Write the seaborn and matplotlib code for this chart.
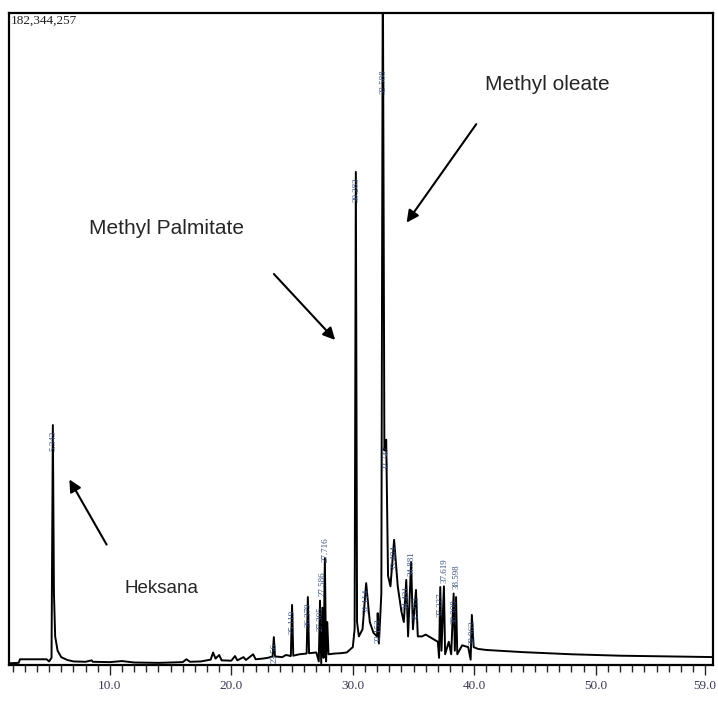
import numpy as np
import pandas as pd
import matplotlib
matplotlib.use("Agg")
import matplotlib.pyplot as plt
from matplotlib.ticker import MultipleLocator
import seaborn as sns

# Kromatogram GC - waktu retensi (menit) dan intensitas (juta count)
waktu = [1.8, 2.5, 2.6, 4.8, 5.0, 5.2, 5.31, 5.40, 5.5, 5.7, 6.0, 6.5, 7.0, 8.0, 8.5, 8.6,
         10.0, 11.0, 12.0, 14.0, 16.0, 16.3, 16.6, 17.5, 18.3, 18.5, 18.7, 19.0, 19.2,
         20.0, 20.3, 20.5, 21.0, 21.2, 21.8, 22.0, 22.6, 23.0, 23.4, 23.5, 23.6, 24.2,
         24.5, 24.9, 25.0, 25.1, 25.6, 26.2, 26.3, 26.4, 27.0, 27.2, 27.3, 27.4, 27.5,
         27.6, 27.7, 27.8, 27.9, 28.0, 28.5, 29.0, 29.5, 30.0, 30.15, 30.25, 30.35, 30.5,
         30.8, 31.1, 31.4, 31.7, 32.0, 32.05, 32.15, 32.35, 32.47, 32.6, 32.75, 32.9, 33.1,
         33.4, 33.7, 34.0, 34.2, 34.4, 34.55, 34.8, 34.95, 35.2, 35.35, 35.7, 36.0, 36.5,
         37.0, 37.1, 37.2, 37.3, 37.5, 37.6, 37.9, 38.1, 38.3, 38.4, 38.5, 38.6, 39.0,
         39.5, 39.7, 39.8, 39.95, 40.3, 41.0, 42.0, 44.0, 46.0, 48.0, 50.0, 52.0, 54.0,
         56.0, 58.0, 59.9]
intensitas = [0.5, 0.6, 1.6, 1.6, 1.0, 2.0, 67.1, 20.0, 8.0, 4.0, 2.2, 1.4, 1.0, 0.9, 1.3, 0.9,
              0.8, 1.1, 0.7, 0.6, 0.8, 1.6, 0.9, 1.0, 1.5, 3.5, 1.8, 2.8, 1.3,
              1.2, 2.5, 1.3, 2.2, 1.4, 3.0, 1.6, 1.8, 2.0, 2.4, 7.8, 2.4, 2.2,
              2.8, 2.5, 16.8, 2.6, 3.0, 3.2, 19.0, 3.3, 3.5, 1.0, 18.0, 0.5, 16.0,
              2.0, 29.9, 1.0, 12.0, 3.0, 3.2, 3.3, 3.5, 5.0, 10.0, 137.9, 12.0, 8.0,
              10.0, 22.9, 12.0, 9.0, 8.0, 14.5, 6.0, 20.0, 200.0, 60.0, 63.0, 25.0, 22.0,
              35.0, 22.0, 15.0, 12.0, 23.8, 8.0, 28.8, 10.0, 21.0, 8.0, 8.0, 8.5, 7.5,
              6.5, 2.0, 21.8, 4.0, 22.0, 3.0, 6.5, 3.0, 20.0, 4.0, 19.0, 3.0, 5.5,
              5.0, 1.5, 14.0, 5.0, 4.5, 4.2, 4.0, 3.6, 3.3, 3.0, 2.8, 2.6, 2.5,
              2.4, 2.3, 2.2]

# label puncak (waktu retensi)
puncak_t = [5.31, 23.5, 25.0, 26.3, 27.3, 27.5, 27.7, 30.25, 31.1, 32.05, 32.47, 32.75,
            33.4, 34.4, 34.8, 35.2, 37.2, 37.5, 38.3, 38.5, 39.8]
puncak_y = [67.1, 7.8, 16.8, 19.0, 18.0, 16.0, 29.9, 137.9, 22.9, 14.5, 200.0, 63.0,
            35.0, 23.8, 28.8, 21.0, 21.8, 22.0, 20.0, 19.0, 14.0]
puncak_lbl = ["5.343", "23.56", "25.119", "26.379", "27.305", "27.586", "27.716", "30.283",
              "31.114", "32.153", "32.588", "32.747", "33.484", "34.431", "34.881", "35.211",
              "37.227", "37.619", "38.308", "38.598", "39.963"]

skala_penuh = 182.344257
xticks = [10, 20, 30, 40, 50, 59]

df = pd.DataFrame({"Waktu": waktu, "Intensitas": intensitas})

sns.set_style("white")
plt.rcParams["font.family"] = ["Liberation Sans", "DejaVu Sans"]

fig = plt.figure(figsize=(7.18, 7.06), dpi=100)
ax = fig.add_axes([9 / 718, 41 / 706, 704 / 718, 652 / 706])

sns.lineplot(data=df, x="Waktu", y="Intensitas", color="black", lw=1.4, ax=ax)

ax.set_xlim(1.7, 59.65)
ax.set_ylim(0, skala_penuh)
ax.set_xlabel("")
ax.set_ylabel("")
ax.set_yticks([])
ax.set_xticks(xticks)
ax.set_xticklabels([f"{t:.1f}" for t in xticks], family="Liberation Serif",
                   fontsize=9.5, color="#3a3a55")
ax.xaxis.set_minor_locator(MultipleLocator(1))
ax.tick_params(axis="x", which="major", direction="out", length=7, width=1, bottom=True)
ax.tick_params(axis="x", which="minor", direction="out", length=5, width=1, bottom=True)
for s in ax.spines.values():
    s.set_color("black")
    s.set_linewidth(1.6)

# label waktu retensi pada puncak; label yang berdempetan ditumpuk ke atas
px_per_m = 652 / skala_penuh          # piksel per juta count
prev_t, prev_top, prev_len = -99, 0, 0
for t, y, lbl in zip(puncak_t, puncak_y, puncak_lbl):
    top = min(y, 168) - 1.5
    panjang = (len(lbl) * 4.6 + 3) / px_per_m
    if abs(t - prev_t) < 0.75 and top - panjang < prev_top and top > prev_top - prev_len:
        top = prev_top + panjang + 1
    ax.text(t + 0.05, top, lbl, rotation=90, ha="center", va="top", fontsize=6.5,
            family="Liberation Serif", color="#3b5080")
    prev_t, prev_top, prev_len = t, top, panjang

ax.text(0.003, 0.997, "182,344,257", transform=ax.transAxes, ha="left", va="top",
        fontsize=9.5, family="Liberation Serif", color="#222222")

# anotasi
panah = dict(arrowstyle="-|>", color="black", lw=1.5, mutation_scale=18)
ax.annotate("", xy=(0.5625, 0.675), xytext=(0.666, 0.833), xycoords="axes fraction",
            textcoords="axes fraction", arrowprops=panah)
ax.annotate("", xy=(0.466, 0.4954), xytext=(0.3736, 0.6028), xycoords="axes fraction",
            textcoords="axes fraction", arrowprops=panah)
ax.annotate("", xy=(0.0838, 0.2883), xytext=(0.1406, 0.181), xycoords="axes fraction",
            textcoords="axes fraction", arrowprops=panah)

ax.text(0.764, 0.890, "Methyl oleate", transform=ax.transAxes, ha="center", va="center",
        fontsize=15)
ax.text(0.224, 0.670, "Methyl Palmitate", transform=ax.transAxes, ha="center", va="center",
        fontsize=15)
ax.text(0.216, 0.118, "Heksana", transform=ax.transAxes, ha="center", va="center",
        fontsize=13.5)

fig.savefig("out.png", dpi=100)
